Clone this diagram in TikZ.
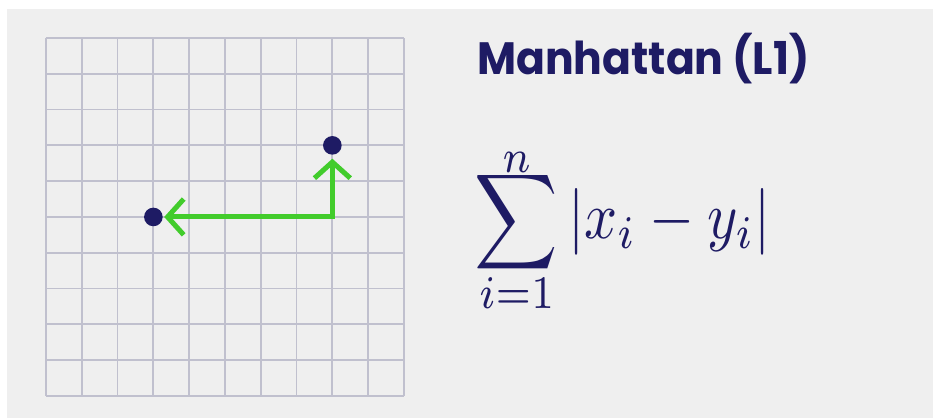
\documentclass[tikz,border=0pt]{standalone}
\usepackage{fontspec}
\newfontfamily\titlefont{Poppins}
\usetikzlibrary{arrows.meta}
\definecolor{navy}{RGB}{30,27,100}
\definecolor{routegreen}{RGB}{66,204,44}
\definecolor{gridgray}{RGB}{192,192,206}
\definecolor{paper}{RGB}{239,239,239}
% tighter limits on the big operator
\newcommand{\tightlimits}{\fontdimen9\textfont3=-0.5pt \fontdimen10\textfont3=0.3pt
  \fontdimen11\textfont3=-0.5pt \fontdimen12\textfont3=0pt }

\begin{document}
\begin{tikzpicture}[
  dot/.style={circle,fill=navy,inner sep=0pt,minimum size=0.52cm},
  route/.style={routegreen,line width=0.14cm,line cap=round,
    {Straight Barb[length=0.45cm,width=1cm]}-{Straight Barb[length=0.45cm,width=1cm]}}]
  % canvas
  \fill[white] (-1.285,1.061) rectangle (24.78,-10.615);
  \fill[paper] (-1.09,0.81) rectangle (24.78,-10.615);
  \useasboundingbox (-1.285,1.061) rectangle (24.78,-10.615);
  % 10x10 grid
  \draw[gridgray,line width=0.05cm] (0,-10) grid (10,0);
  % the two points and the path between them
  \node[dot] (pa) at (3,-5) {};
  \node[dot] (pb) at (8,-3) {};
  \draw[route,shorten <=1pt,shorten >=3pt] (pa) -| (pb);
  % title and formula
  \node[anchor=base west,inner sep=0pt,text=navy,xscale=0.94,transform shape,
    font=\titlefont\bfseries\fontsize{36}{44}\selectfont] (title) at (12.04,-1.03) {Manhattan (L1)};
  \node[anchor=base west,inner sep=0pt,text=navy,xscale=4.6,yscale=5.3,transform shape] (formula) at (11.95,-5.61)
    {$\tightlimits\displaystyle\sum_{i=1}^{n} |x_i - y_i|$};
\end{tikzpicture}
\end{document}
